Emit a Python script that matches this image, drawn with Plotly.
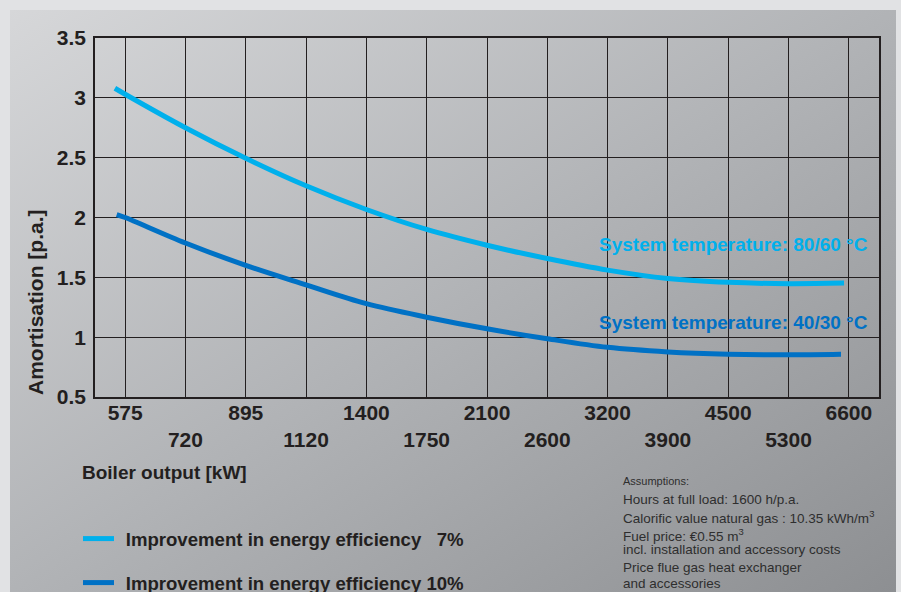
import base64
import plotly.graph_objects as go

# ---------------- data ----------------
tick_labels = ["575", "720", "895", "1120", "1400", "1750", "2100",
               "2600", "3200", "3900", "4500", "5300", "6600"]
tick_pos = list(range(len(tick_labels)))

x_7 = [-0.17, 0, 1, 2, 3, 4, 5, 6, 7, 8, 9, 10, 11, 11.92]
y_7 = [3.08, 3.03, 2.75, 2.495, 2.265, 2.067, 1.90, 1.768, 1.657, 1.56, 1.49, 1.458, 1.447, 1.452]

x_10 = [-0.14, 0, 1, 2, 3, 4, 5, 6, 7, 8, 9, 10, 11, 11.87]
y_10 = [2.025, 2.0, 1.787, 1.60, 1.437, 1.28, 1.167, 1.07, 0.987, 0.915, 0.877, 0.858, 0.853, 0.858]

y_ticks = [0.5, 1, 1.5, 2, 2.5, 3, 3.5]
y_ticktext = ["0.5", "1", "1.5", "2", "2.5", "3", "3.5"]

assumptions = [
    "Assumptions:",
    "Hours at full load: 1600 h/p.a.",
    "Calorific value natural gas : 10.35 kWh/m<sup>3</sup>",
    "Fuel price: €0.55 m<sup>3</sup>",
    "incl. installation and accessory costs",
    "Price flue gas heat exchanger",
    "and accessories",
]

# ---------------- style ----------------
W, H = 901, 592
L, R, T, B = 95, 879, 38, 397
PW, PH = R - L, B - T
FONT = "Liberation Sans, Arial, sans-serif"
INK = "#231f20"
LIGHT = "#00b0ec"
DARK = "#0071c5"

def px(xp):
    return (xp - L) / PW

def py(yp):
    return (B - yp) / PH

svg = (
    '<svg xmlns="http://www.w3.org/2000/svg" width="886" height="582">'
    '<defs><linearGradient id="g" x1="0" y1="0" x2="1" y2="1">'
    '<stop offset="0" stop-color="#d6d7d9"/>'
    '<stop offset="0.5" stop-color="#b1b3b6"/>'
    '<stop offset="1" stop-color="#8d8f92"/>'
    '</linearGradient></defs>'
    '<rect width="886" height="582" fill="url(#g)"/></svg>'
)
svg_uri = "data:image/svg+xml;base64," + base64.b64encode(svg.encode()).decode()

PAD = "\u00a0\u200a"
fig = go.Figure()
fig.add_trace(go.Scatter(
    x=x_7, y=y_7, mode="lines", line=dict(color=LIGHT, width=5, shape="spline"),
    name=PAD + "<b>Improvement in energy efficiency\u00a0\u00a0\u00a07%</b>", legend="legend",
))
fig.add_trace(go.Scatter(
    x=x_10, y=y_10, mode="lines", line=dict(color=DARK, width=5, shape="spline"),
    name=PAD + "<b>Improvement in energy efficiency 10%</b>", legend="legend2",
))

ticktext = [t if i % 2 == 0 else "<br>" + t for i, t in enumerate(tick_labels)]

fig.update_xaxes(
    range=[-0.5, 12.5], tickvals=tick_pos, ticktext=ticktext, tickangle=0,
    showgrid=True, gridcolor=INK, gridwidth=1, zeroline=False,
    showline=True, mirror=True, linecolor=INK, linewidth=1.5,
    ticks="", ticklabelstandoff=-4,
    tickfont=dict(family=FONT, size=21, color=INK, weight="bold"),
)
fig.update_yaxes(
    range=[0.5, 3.5], tickvals=y_ticks, ticktext=y_ticktext,
    showgrid=True, gridcolor=INK, gridwidth=1, zeroline=False,
    showline=True, mirror=True, linecolor=INK, linewidth=1.5,
    ticks="", ticklabelstandoff=3,
    tickfont=dict(family=FONT, size=21, color=INK, weight="bold"),
)

annotations = [
    dict(text="<b>Amortisation [p.a.]</b>", x=px(35), y=py(302), xref="paper", yref="paper",
         textangle=-90, showarrow=False, xanchor="center", yanchor="middle",
         font=dict(family=FONT, size=21, color=INK)),
    dict(text="<b>Boiler output [kW]</b>", x=px(80), y=py(472), xref="paper", yref="paper",
         showarrow=False, xanchor="left", yanchor="middle",
         font=dict(family=FONT, size=19, color=INK)),
    dict(text="<b>System temperature: 80/60 °C</b>", x=px(870), y=py(245), xref="paper", yref="paper",
         showarrow=False, xanchor="right", yanchor="middle",
         font=dict(family=FONT, size=19, color=LIGHT)),
    dict(text="<b>System temperature: 40/30 °C</b>", x=px(870), y=py(322.7), xref="paper", yref="paper",
         showarrow=False, xanchor="right", yanchor="middle",
         font=dict(family=FONT, size=19, color=DARK)),
]
a_y = [481, 499.3, 517.3, 535, 549.3, 567.3, 583.3]
a_size = [11, 13.5, 13.5, 13.5, 13.5, 13.5, 13.5]
for txt, yy, sz in zip(assumptions, a_y, a_size):
    annotations.append(dict(
        text=txt, x=px(621), y=py(yy), xref="paper", yref="paper",
        showarrow=False, xanchor="left", yanchor="middle",
        font=dict(family=FONT, size=sz, color="#2e2e2e"),
    ))

leg_common = dict(
    xref="container", yref="container", xanchor="left", yanchor="middle",
    bgcolor="rgba(0,0,0,0)", borderwidth=0, itemwidth=31,
    font=dict(family=FONT, size=18.6, color=INK),
)
fig.update_layout(
    width=W, height=H,
    margin=dict(l=L, r=W - R, t=T, b=H - B, pad=0, autoexpand=False),
    paper_bgcolor="#e1e2e4", plot_bgcolor="rgba(0,0,0,0)",
    showlegend=True,
    legend=dict(x=78 / W, y=1 - 539 / H, **leg_common),
    legend2=dict(x=78 / W, y=1 - 583 / H, **leg_common),
    annotations=annotations,
    images=[dict(source=svg_uri, xref="paper", yref="paper",
                 x=px(10), y=py(10), sizex=886 / PW, sizey=582 / PH,
                 sizing="stretch", layer="below", xanchor="left", yanchor="top")],
)

fig.write_html(
    "out.html",
    config={"displayModeBar": False},
    post_script="document.body.style.margin='0px';document.body.style.overflow='hidden';",
)
